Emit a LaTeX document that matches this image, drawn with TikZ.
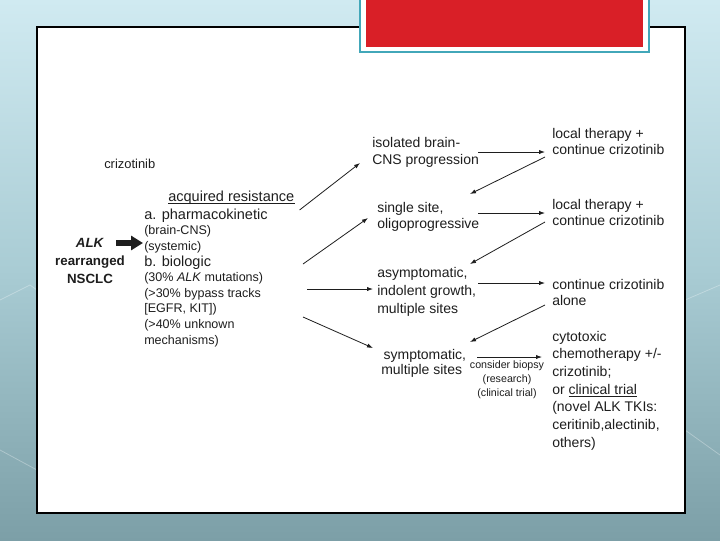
\documentclass[tikz,border=0pt]{standalone}
\usepackage{fontspec}
\setmainfont{Liberation Sans}
\usetikzlibrary{arrows.meta,calc}
\definecolor{txt}{HTML}{1E1E1E}
\definecolor{bgtop}{HTML}{D0EAF1}
\definecolor{bgmid}{HTML}{A9CCD4}
\definecolor{bgbot}{HTML}{7C9FA7}
\definecolor{tealedge}{HTML}{42A7B9}
\definecolor{redbox}{HTML}{D91F27}
\begin{document}
\begin{tikzpicture}[x=0.75pt,y=-0.75pt,
  every node/.style={inner sep=0pt,text=txt},
  lbl/.style={anchor=base west,align=left},
  conn/.style={draw=txt,line width=0.6pt,-{Latex[length=4.5pt,width=3.2pt]}}]
\useasboundingbox (0,0) rectangle (720,540);
% background
\shade[top color=bgtop,bottom color=bgbot,middle color=bgmid] (0,0) rectangle (720,540);
\draw[white,opacity=0.3,line width=0.6pt] (0,300) -- (30,285) -- (37,290);
\draw[white,opacity=0.3,line width=0.6pt] (0,450) -- (37,470);
\draw[white,opacity=0.3,line width=0.6pt] (685,300) -- (720,285);
\draw[white,opacity=0.3,line width=0.6pt] (685,430) -- (720,455);
% panel
\draw[fill=white,line width=0.9pt] (37,27) rectangle (685,513);
% red title box
\draw[draw=tealedge,fill=white,line width=2pt] (360,-5) rectangle (649,52);
\fill[redbox] (366,-5) rectangle (643,47);

% text nodes (anchored at the baseline of their last line)
\node[lbl,font=\fontsize{9.7}{12}\selectfont] (crizo) at (104,168) {crizotinib};
\node[anchor=base,align=center,font=\bfseries\fontsize{10}{13.3}\selectfont] (alk) at (90,283)
  {\textit{ALK}\\rearranged\\NSCLC};
\node[lbl,font=\fontsize{10.9}{12}\selectfont] (acq) at (168,201) {acquired resistance};
\draw[txt,line width=0.6pt] ($(acq.base west)+(0,2.5)$) -- ($(acq.base east)+(0,2.5)$);
\node[lbl,font=\fontsize{9.4}{11.7}\selectfont] (list) at (144,344)
  {{\fontsize{10.9}{11.7}\selectfont a. pharmacokinetic}\\
   (brain-CNS)\\
   (systemic)\\
   {\fontsize{10.9}{11.7}\selectfont b. biologic}\\
   (30\% \textit{ALK} mutations)\\
   (>30\% bypass tracks\\
   {[EGFR, KIT])}\\
   (>40\% unknown\\
   mechanisms)};

\node[lbl,font=\fontsize{10.5}{12.75}\selectfont] (iso) at (372,164) {isolated brain-\\CNS progression};
\node[lbl,font=\fontsize{10.5}{12}\selectfont] (single) at (377,228) {single site,\\oligoprogressive};
\node[lbl,font=\fontsize{10.5}{13.5}\selectfont] (asym) at (377,313) {asymptomatic,\\indolent growth,\\multiple sites};
\node[lbl,font=\fontsize{10.5}{11.25}\selectfont] (symp) at (381,374) {\,symptomatic,\\multiple sites};
\node[anchor=base,align=center,font=\fontsize{8}{10.5}\selectfont] (biopsy) at (507,396)
  {consider biopsy\\(research)\\(clinical trial)};

\node[lbl,font=\fontsize{10.5}{12}\selectfont] (r1) at (552,154) {local therapy +\\continue crizotinib};
\node[lbl,font=\fontsize{10.5}{12}\selectfont] (r2) at (552,225) {local therapy +\\continue crizotinib};
\node[lbl,font=\fontsize{10.5}{12}\selectfont] (r3) at (552,305) {continue crizotinib\\alone};
\node[lbl,font=\fontsize{10.5}{13.25}\selectfont] (r4) at (552,447)
  {cytotoxic\\chemotherapy +/-\\crizotinib;\\or \underline{clinical trial}\\(novel ALK TKIs:\\ceritinib,alectinib,\\others)};

% thick arrow
\draw[txt,line width=4.8pt,-{Triangle[length=9pt,width=10.5pt]}]
  ($(alk.base)+(26,-40)$) -- ($(list.base west)+(-1,-101)$);

% connectors
\draw[conn] ($(acq.base east)+(5,9)$) -- ($(iso.base west)+(-12,-1)$);
\draw[conn] ($(single.base west)+(-74,36)$) -- ($(single.base west)+(-9,-10)$);
\draw[conn] ($(asym.base west)+(-70,-24)$) -- ($(asym.base west)+(-4,-24)$);
\draw[conn] ($(symp.base west)+(-78,-57)$) -- ($(symp.base west)+(-8,-26)$);

\draw[conn] ($(r1.base west)+(-74,-2)$) -- ($(r1.base west)+(-7,-2)$);
\draw[conn] ($(r2.base west)+(-74,-12)$) -- ($(r2.base west)+(-7,-12)$);
\draw[conn] ($(r3.base west)+(-74,-22)$) -- ($(r3.base west)+(-7,-22)$);
\draw[conn] ($(r4.base west)+(-75,-90)$) -- ($(r4.base west)+(-10,-90)$);

\draw[conn] ($(r1.base west)+(-7,3)$) -- ($(single.base west)+(93,-34)$);
\draw[conn] ($(r2.base west)+(-7,-3)$) -- ($(asym.base west)+(93,-49)$);
\draw[conn] ($(r3.base west)+(-7,0)$) -- ($(symp.base west)+(89,-32)$);
\end{tikzpicture}
\end{document}
